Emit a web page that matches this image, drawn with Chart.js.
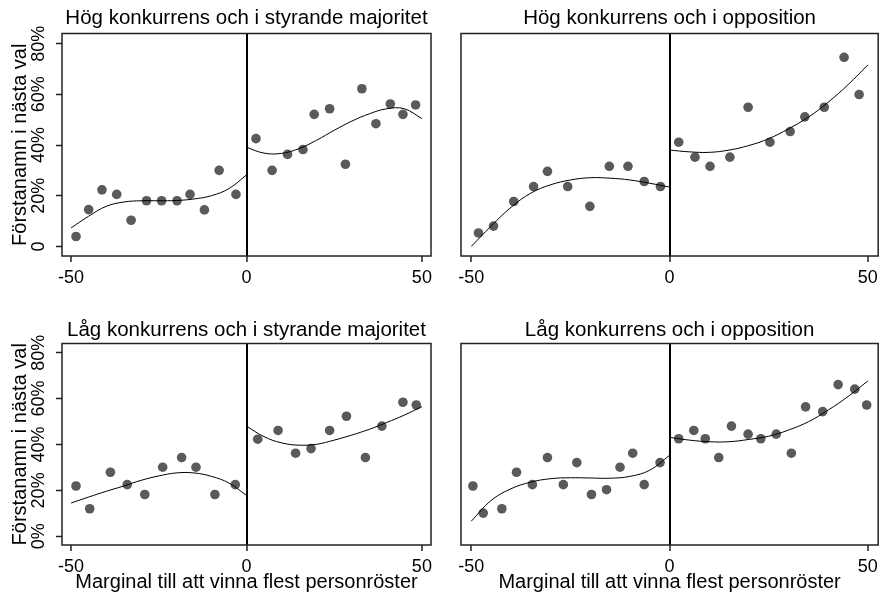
<!DOCTYPE html>
<html>
<head>
<meta charset="utf-8">
<script src="https://cdn.jsdelivr.net/npm/chart.js@4/dist/chart.umd.min.js"></script>
<style>
  body { margin: 0; background: #fff; }
  canvas { position: absolute; }
</style>
</head>
<body>
<canvas id="c1" width="440" height="300" style="left:0;top:0"></canvas>
<canvas id="c2" width="443" height="300" style="left:440px;top:0"></canvas>
<canvas id="c3" width="440" height="296" style="left:0;top:300px"></canvas>
<canvas id="c4" width="443" height="296" style="left:440px;top:300px"></canvas>
<script>
// axes
const xTicks = [-50, 0, 50];
const yTicks = [0, 20, 40, 60, 80];
const yLabelsTop = ['0', '20%', '40%', '60%', '80%'];
const yLabelsBottom = ['0%', '20%', '40%', '60%', '80%'];
const fitXLeft = [-50, -45, -40, -35, -30, -25, -20, -15, -10, -5, 0];
const fitXRight = [0, 5, 10, 15, 20, 25, 30, 35, 40, 45, 50];

// Hög konkurrens, styrande majoritet
const p1BinX = [-48.6, -45, -41.2, -37, -32.9, -28.5, -24.2, -19.8, -16.1, -12, -7.8, -3,
  2.7, 7.3, 11.7, 16.1, 19.3, 23.7, 28.2, 32.9, 36.9, 41, 44.6, 48.2];
const p1BinY = [3.9, 14.5, 22.3, 20.5, 10.3, 18, 18, 18, 20.5, 14.4, 30, 20.5,
  42.5, 30, 36.3, 38.2, 52.1, 54.3, 32.4, 62.2, 48.4, 56.2, 52.1, 55.8];
const p1FitL = [7.3, 11.9, 15.8, 17.5, 18.0, 18.0, 18.1, 18.7, 20.0, 22.8, 28.2];
const p1FitR = [39.1, 36.8, 36.7, 38.6, 41.9, 45.8, 49.4, 52.3, 54.3, 54.3, 50.4];

// Hög konkurrens, opposition
const p2BinX = [-48.2, -44.4, -39.3, -34.3, -30.8, -25.7, -20.1, -15.2, -10.5, -6.4, -2.3,
  2.3, 6.4, 10.2, 15.2, 19.8, 25.3, 30.4, 34.1, 39, 44, 47.8];
const p2BinY = [5.3, 8, 17.7, 23.6, 29.6, 23.6, 15.8, 31.6, 31.6, 25.6, 23.6,
  41.1, 35.2, 31.6, 35.2, 54.9, 41.1, 45.3, 51.1, 54.9, 74.6, 59.9];
const p2FitL = [0, 8, 15.4, 21, 24.3, 26.2, 27.1, 26.9, 26.2, 24.9, 23.4];
const p2FitR = [38, 37.3, 37.1, 38, 39.8, 42.5, 46.4, 51, 56.9, 63.8, 71.6];

// Låg konkurrens, styrande majoritet
const p3BinX = [-48.6, -44.7, -38.8, -34, -29, -23.9, -18.5, -14.4, -9, -3.2,
  3.2, 9, 14, 18.4, 23.7, 28.5, 33.9, 38.6, 44.6, 48.4];
const p3BinY = [21.9, 12, 27.9, 22.5, 18.2, 30.1, 34.3, 30.1, 18.2, 22.5,
  42.3, 46.1, 36.2, 38.2, 46.1, 52.3, 34.3, 48, 58.4, 57.2];
const p3FitL = [14.5, 17.1, 19.6, 21.9, 24.4, 26.3, 27.6, 27.6, 26.1, 23.2, 17.8];
const p3FitR = [48, 43.4, 40.7, 39.7, 40.1, 41.9, 44.1, 46.6, 49.6, 52.8, 56.5];

// Låg konkurrens, opposition
const p4BinX = [-49.6, -47, -42.3, -38.6, -34.6, -30.8, -26.8, -23.4, -19.7, -15.9, -12.5, -9.3, -6.4, -2.4,
  2.3, 6.1, 9, 12.4, 15.6, 19.8, 23, 26.9, 30.7, 34.3, 38.6, 42.5, 46.7, 49.7];
const p4BinY = [21.9, 10.1, 12, 27.9, 22.5, 34.3, 22.5, 32.1, 18.2, 20.3, 30.1, 36.2, 22.5, 32.1,
  42.5, 46.1, 42.5, 34.3, 48, 44.5, 42.5, 44.5, 36.2, 56.4, 54.3, 66.1, 64.1, 57.2];
const p4FitL = [6.6, 15.6, 20.7, 23.6, 25.1, 25.5, 25.4, 25.3, 26.1, 28.8, 35.3];
const p4FitR = [43.1, 41.9, 41.2, 41.2, 42.2, 43.6, 46.3, 49.9, 55, 60.9, 67.7];

const FONT = '"Liberation Sans", Arial, sans-serif';
Chart.defaults.font.family = FONT;
Chart.defaults.color = '#000';

const zip = (xs, ys) => xs.map((x, i) => ({ x: x, y: ys[i] }));

// box round the plot region
const frame = {
  id: 'frame',
  afterDatasetsDraw(chart) {
    const { ctx, chartArea: a } = chart;
    ctx.save();
    ctx.strokeStyle = '#222';
    ctx.lineWidth = 1.5;
    ctx.strokeRect(a.left, a.top, a.right - a.left, a.bottom - a.top);
    ctx.restore();
  }
};

function panel(id, p) {
  const fitLine = (xs, ys) => ({
    type: 'line', data: zip(xs, ys), borderColor: '#000', borderWidth: 1,
    pointRadius: 0, tension: 0.4, fill: false
  });
  new Chart(document.getElementById(id), {
    data: {
      datasets: [
        fitLine(fitXLeft, p.fitL),
        fitLine(fitXRight, p.fitR),
        {
          type: 'scatter', data: zip(p.binX, p.binY),
          backgroundColor: '#5a5a5a', borderWidth: 0, pointRadius: 4.8
        }
      ]
    },
    options: {
      responsive: false,
      animation: false,
      layout: { padding: p.pad },
      plugins: {
        legend: { display: false },
        tooltip: { enabled: false },
        title: {
          display: true, text: p.title, fullSize: false, color: '#000',
          font: { size: 20.5, weight: 'normal', lineHeight: 1 },
          padding: p.titlePad
        }
      },
      scales: {
        x: {
          type: 'linear', min: -52.6, max: 52.6,
          afterBuildTicks: s => { s.ticks = xTicks.map(v => ({ value: v })); },
          afterFit: s => { s.height = p.xHeight; },
          border: { display: false },
          grid: {
            color: c => (c.tick && c.tick.value === 0) ? '#000' : 'rgba(0,0,0,0)',
            lineWidth: 2, tickColor: '#222', tickWidth: 1.5, tickLength: 6
          },
          ticks: {
            autoSkip: false, maxRotation: 0, padding: 5, color: '#000',
            font: { size: 18 }, callback: v => String(v)
          },
          title: {
            display: p.xTitle, text: 'Marginal till att vinna flest personröster', color: '#000',
            font: { size: 20, lineHeight: 1 }, padding: { top: 0, bottom: 4 }
          }
        },
        y: {
          display: p.showY, min: -3.8, max: 84,
          afterBuildTicks: s => { s.ticks = yTicks.map(v => ({ value: v })); },
          afterFit: s => { s.width = p.showY ? 62 : 0; },
          border: { display: false },
          grid: { drawOnChartArea: false, tickColor: '#222', tickWidth: 1.5, tickLength: 6 },
          ticks: {
            autoSkip: false, minRotation: 90, maxRotation: 90, crossAlign: 'center',
            padding: -1, color: '#000', font: { size: 18 },
            callback: (v, i) => p.yLabels[i]
          },
          title: {
            display: true, text: 'Förstanamn i nästa val', color: '#000',
            font: { size: 20, lineHeight: 1 }, padding: { top: 10, bottom: 0 }
          }
        }
      }
    },
    plugins: [frame]
  });
}

panel('c1', {
  title: 'Hög konkurrens och i styrande majoritet', binX: p1BinX, binY: p1BinY,
  fitL: p1FitL, fitR: p1FitR, showY: true, yLabels: yLabelsTop, xTitle: false,
  pad: { left: 0, right: 9, top: 0, bottom: 0 }, titlePad: { top: 8, bottom: 5 }, xHeight: 44
});
panel('c2', {
  title: 'Hög konkurrens och i opposition', binX: p2BinX, binY: p2BinY,
  fitL: p2FitL, fitR: p2FitR, showY: false, yLabels: yLabelsTop, xTitle: false,
  pad: { left: 21, right: 1, top: 0, bottom: 0 }, titlePad: { top: 8, bottom: 5 }, xHeight: 44
});
panel('c3', {
  title: 'Låg konkurrens och i styrande majoritet', binX: p3BinX, binY: p3BinY,
  fitL: p3FitL, fitR: p3FitR, showY: true, yLabels: yLabelsBottom, xTitle: true,
  pad: { left: 0, right: 9, top: 0, bottom: 0 }, titlePad: { top: 20, bottom: 3 }, xHeight: 51
});
panel('c4', {
  title: 'Låg konkurrens och i opposition', binX: p4BinX, binY: p4BinY,
  fitL: p4FitL, fitR: p4FitR, showY: false, yLabels: yLabelsBottom, xTitle: true,
  pad: { left: 21, right: 1, top: 0, bottom: 0 }, titlePad: { top: 20, bottom: 3 }, xHeight: 51
});
</script>
</body>
</html>
